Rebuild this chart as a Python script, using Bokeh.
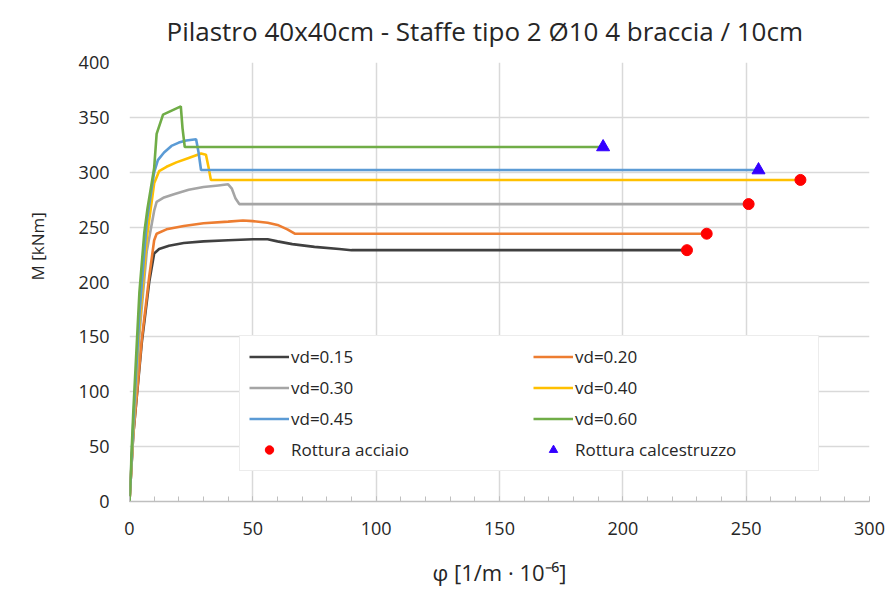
from bokeh.plotting import figure
from bokeh.models import Legend, LegendItem, Range1d, FixedTicker, Title
from bokeh.embed import file_html
from bokeh.resources import INLINE

# --- data ---
x015 = [0, 1.5, 5, 8, 10, 12, 16, 22, 30, 40, 50, 56, 60, 66, 75, 85, 90, 226]
y015 = [0, 60, 145, 200, 226, 230, 233, 235.5, 237, 238, 239, 239, 237, 234.5, 232, 230, 229, 229]

x020 = [0, 1.5, 5, 8, 10, 11, 15, 22, 30, 40, 46, 50, 56, 60, 64, 67, 234]
y020 = [0, 60, 148, 205, 238, 244, 248, 251, 253.5, 255, 256, 255.5, 254, 252, 248, 244, 244]

x030 = [0, 1.5, 4, 7, 10, 11, 14, 18, 24, 30, 36, 40, 41.5, 43, 44.5, 251]
y030 = [0, 62, 152, 228, 265, 273, 277, 280, 284, 286.5, 288, 289, 285, 276, 271, 271]

x040 = [0, 1.5, 4, 7, 10, 12, 15, 19, 24, 29, 31, 32, 33, 272]
y040 = [0, 65, 160, 240, 290, 301, 305, 309, 313, 317, 316, 305, 293, 293]

x045 = [0, 1.5, 4, 7, 10, 11.5, 14, 17, 20, 23, 27, 28, 29, 255]
y045 = [0, 70, 170, 255, 300, 311, 318, 324, 327, 329, 330, 318, 302, 302]

x060 = [0, 1.5, 4, 6, 7.3, 10, 11, 13.6, 16, 20.8, 21.5, 22.4, 192]
y060 = [0, 80, 190, 245, 267, 304, 335, 352.5, 355, 360, 340, 323, 323]

steel_x = [226, 234, 251, 272]
steel_y = [229, 244, 271, 293]
conc_x = [255, 192]
conc_y = [302, 323]

series_names = ["vd=0.15", "vd=0.20", "vd=0.30", "vd=0.40", "vd=0.45", "vd=0.60"]
series_colors = ["#404040", "#ED7D31", "#A5A5A5", "#FFC000", "#5B9BD5", "#70AD47"]
series_x = [x015, x020, x030, x040, x045, x060]
series_y = [y015, y020, y030, y040, y045, y060]

x_ticks = [0, 50, 100, 150, 200, 250, 300]
x_minor = list(range(0, 301, 10))
y_ticks = [0, 50, 100, 150, 200, 250, 300, 350, 400]

FONT = "Open Sans"
GRID = "#d9d9d9"
TXT = "#262626"

p = figure(width=887, height=589, output_backend="svg", toolbar_location=None,
           x_range=Range1d(0, 300), y_range=Range1d(0, 400),
           min_border_left=128, min_border_right=18, min_border_top=61,
           min_border_bottom=88)
p.outline_line_color = None
p.background_fill_color = "white"
p.border_fill_color = "white"

title = Title(text="Pilastro 40x40cm - Staffe tipo 2 Ø10 4 braccia / 10cm",
              text_font=FONT, text_font_size="26px", text_font_style="normal",
              text_color=TXT, align="left", offset=37,
              vertical_align="top", standoff=24)
p.add_layout(title, "above")

ylab = Title(text="M [kNm]", text_font=FONT, text_font_size="17px",
             text_font_style="normal", text_color=TXT,
             align="left", offset=221, vertical_align="top", standoff=50)
p.add_layout(ylab, "left")

p.xaxis.ticker = FixedTicker(ticks=x_ticks, minor_ticks=x_minor)
p.yaxis.ticker = FixedTicker(ticks=y_ticks)
p.xgrid.ticker = p.xaxis.ticker
p.ygrid.ticker = p.yaxis.ticker

for ax in (p.xaxis[0], p.yaxis[0]):
    ax.major_label_text_font = FONT
    ax.major_label_text_font_size = "18px"
    ax.major_label_text_color = TXT
    ax.axis_label_text_font = FONT
    ax.axis_label_text_font_style = "normal"
    ax.axis_label_text_color = TXT

p.xaxis.axis_label = "φ [1/m · 10⁻⁶]"
p.xaxis.axis_label_text_font_size = "22px"

p.xaxis.axis_line_color = "#bfbfbf"
p.xaxis.axis_line_width = 1.5
p.xaxis.major_tick_in = 5
p.xaxis.major_tick_out = 0
p.xaxis.major_tick_line_color = "#bfbfbf"
p.xaxis.minor_tick_in = 5
p.xaxis.minor_tick_out = 0
p.xaxis.minor_tick_line_color = "#bfbfbf"
p.xaxis.major_label_standoff = 20
p.xaxis.axis_label_standoff = 19

p.yaxis.axis_line_color = None
p.yaxis.major_tick_line_color = None
p.yaxis.minor_tick_line_color = None
p.yaxis.major_label_standoff = 14

p.xgrid.grid_line_color = GRID
p.ygrid.grid_line_color = GRID
p.xgrid.grid_line_width = 1.5
p.ygrid.grid_line_width = 1.5

renderers = []
for xs, ys, c in zip(series_x, series_y, series_colors):
    r = p.line(xs, ys, line_color=c, line_width=2.6)
    renderers.append(r)

r_steel = p.scatter(steel_x, steel_y, marker="circle", size=11,
                    fill_color="#FF0000", line_color="#FF0000")
r_conc = p.scatter(conc_x, conc_y, marker="triangle", size=13,
                   fill_color="#3300FF", line_color="#3300FF")

line_items = [LegendItem(label=n, renderers=[r]) for n, r in zip(series_names, renderers)]
steel_item = LegendItem(label="Rottura acciaio", renderers=[r_steel])
conc_item = LegendItem(label="Rottura calcestruzzo", renderers=[r_conc])
# legend fills column by column: left column first, then right column
items = [line_items[0], line_items[2], line_items[4], steel_item,
         line_items[1], line_items[3], line_items[5], conc_item]

legend = Legend(items=items, ncols=2, location=(110, 30),
                label_text_font=FONT, label_text_font_size="17px",
                label_text_color=TXT, glyph_width=40, glyph_height=21,
                label_height=21, label_width=234, label_standoff=2,
                spacing=8, padding=9, margin=0,
                border_line_color=GRID, border_line_width=1.5,
                background_fill_color="white", background_fill_alpha=1)
p.add_layout(legend)

open("out.html", "w").write(file_html(p, INLINE))
